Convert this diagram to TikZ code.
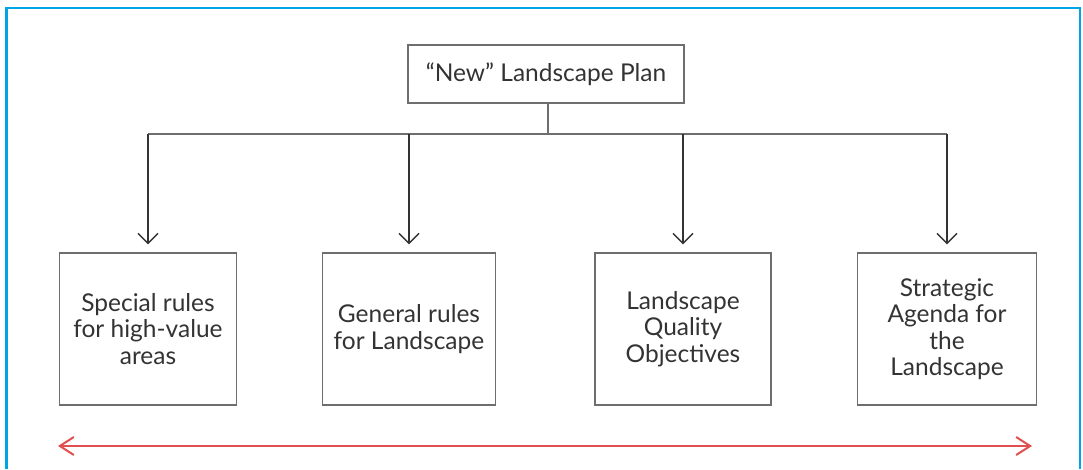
\documentclass[tikz,border=0pt]{standalone}
\usepackage{fontspec}
\setmainfont{Lato}
\usepackage{xcolor}
\usetikzlibrary{arrows.meta, positioning}

\definecolor{framecyan}{HTML}{00A3E4}
\definecolor{boxgray}{HTML}{6E6E6E}
\definecolor{textgray}{HTML}{333333}
\definecolor{spanred}{HTML}{E0504F}

\begin{document}
\begin{tikzpicture}[x=1pt, y=-1pt,
    box/.style={rectangle, draw=boxgray, line width=1.4pt, text=textgray,
                minimum width=177pt, minimum height=152pt, align=center,
                font=\fontsize{24.5}{26.5}\selectfont, inner sep=0pt},
    topbox/.style={box, minimum width=276pt, minimum height=58pt},
    link/.style={draw=boxgray, line width=1.4pt},
    arr/.style={link, -{Straight Barb[length=10pt, width=20pt, line width=1.4pt]}, draw=textgray},
]
\useasboundingbox (0,0) rectangle (1083,469);
% frame
\draw[framecyan, line width=2.2pt] (6.5,469) -- (6.5,8) -- (1080,8) -- (1080,469);

\node[topbox] (plan) at (546,74) {``New'' Landscape Plan};

\node[box] (special)   at (148,329) {Special rules\\for high-value\\areas};
\node[box, minimum width=173pt] (general) at (409,329) {General rules\\for Landscape};
\node[box, minimum width=176pt] (quality) at (683,329) {Landscape\\Quality\\Objectives};
\node[box, minimum width=179pt] (agenda)  at (947,329) {Strategic\\Agenda for\\the\\Landscape};

\coordinate (bus) at (548,134);
\draw[link] (plan.south -| bus) -- (bus);
\draw[link] (special.north |- bus) -- (agenda.north |- bus);
\foreach \b in {special, general, quality, agenda}
  \draw[arr] (\b.north |- bus) -- ([yshift=8pt]\b.north);

% span arrow
\coordinate (left end) at (58,446);
\coordinate (right end) at (1032,446);
\draw[spanred, line width=2pt, {Straight Barb[length=14pt, width=18pt]}-{Straight Barb[length=14pt, width=18pt]}] (left end) -- (right end);
\end{tikzpicture}
\end{document}
